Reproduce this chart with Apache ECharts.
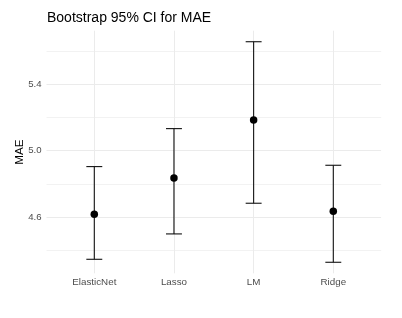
<!DOCTYPE html>
<html>
<head>
<meta charset="utf-8">
<script src="https://cdn.jsdelivr.net/npm/echarts@6/dist/echarts.min.js"></script>
<style>
html,body{margin:0;padding:0;background:#fff;}
#chart{width:402px;height:318px;}
</style>
</head>
<body>
<div id="chart"></div>
<script>
// Data
const categories = ['ElasticNet', 'Lasso', 'LM', 'Ridge'];
const maeMean  = [4.616, 4.835, 5.185, 4.634];
const ciLower  = [4.345, 4.498, 4.683, 4.327];
const ciUpper  = [4.904, 5.133, 5.657, 4.912];
const yMajorTicks = [4.6, 5.0, 5.4];
const yMinorGrid  = [4.4, 4.8, 5.2, 5.6];

// ggplot-like scale expansion
const lo = Math.min(...ciLower), hi = Math.max(...ciUpper);
const pad = (hi - lo) * 0.05;
const yMin = lo - pad, yMax = hi + pad;
const xMin = 1 - 0.6, xMax = categories.length + 0.6;

const pointData = categories.map((c, i) => [i + 1, maeMean[i]]);
const barData = categories.map((c, i) => [i + 1, ciLower[i], ciUpper[i]]);
const capHalf = 0.1;

const chart = echarts.init(document.getElementById('chart'), null, {renderer: 'canvas'});
const font = 'Liberation Sans, Arial, sans-serif';

chart.setOption({
  animation: false,
  backgroundColor: '#ffffff',
  title: {
    text: 'Bootstrap 95% CI for MAE',
    left: 42, top: 6,
    textStyle: {fontFamily: font, fontSize: 14, fontWeight: 'normal', color: '#000'}
  },
  grid: {left: 46.5, right: 20.9, top: 30.7, bottom: 44.7},
  xAxis: {
    type: 'value', min: xMin, max: xMax, minInterval: 1, maxInterval: 1,
    axisLine: {show: false}, axisTick: {show: false}, splitLine: {show: false},
    axisLabel: {
      showMinLabel: false, showMaxLabel: false, margin: 4,
      fontFamily: font, fontSize: 9.8, color: '#4d4d4d',
      formatter: v => {
        const r = Math.round(v);
        return (Math.abs(v - r) < 1e-6 && r >= 1 && r <= categories.length) ? categories[r - 1] : '';
      }
    }
  },
  yAxis: {
    type: 'value', min: yMin, max: yMax, minInterval: 0.2, maxInterval: 0.2,
    name: 'MAE', nameLocation: 'middle', nameGap: 21, nameMoveOverlap: false,
    nameTextStyle: {fontFamily: font, fontSize: 11.7, color: '#000'},
    axisLine: {show: false}, axisTick: {show: false}, splitLine: {show: false},
    axisLabel: {
      showMinLabel: false, showMaxLabel: false, margin: 5,
      fontFamily: font, fontSize: 9.6, color: '#4d4d4d',
      formatter: v => yMajorTicks.some(t => Math.abs(t - v) < 1e-6) ? v.toFixed(1) : ''
    }
  },
  series: [
    {
      type: 'scatter', data: [], z: 0, silent: true,
      markLine: {
        silent: true, symbol: 'none', label: {show: false}, animation: false, z: 0,
        lineStyle: {type: 'solid', color: '#efefef', width: 0.8},
        data: yMinorGrid.map(v => ({yAxis: v}))
      }
    },
    {
      type: 'scatter', data: [], z: 1, silent: true,
      markLine: {
        silent: true, symbol: 'none', label: {show: false}, animation: false, z: 1,
        lineStyle: {type: 'solid', color: '#ebebeb', width: 1},
        data: yMajorTicks.map(v => ({yAxis: v})).concat(categories.map((c, i) => ({xAxis: i + 1})))
      }
    },
    {
      type: 'custom', z: 10, silent: true,
      data: barData,
      renderItem: (params, api) => {
        const x = api.value(0), l = api.value(1), h = api.value(2);
        const pl = api.coord([x, l]), ph = api.coord([x, h]);
        const lL = api.coord([x - capHalf, l]), lR = api.coord([x + capHalf, l]);
        const hL = api.coord([x - capHalf, h]), hR = api.coord([x + capHalf, h]);
        const style = {stroke: '#111', lineWidth: 1.1};
        return {
          type: 'group',
          children: [
            {type: 'line', shape: {x1: pl[0], y1: pl[1], x2: ph[0], y2: ph[1]}, style},
            {type: 'line', shape: {x1: lL[0], y1: lL[1], x2: lR[0], y2: lR[1]}, style},
            {type: 'line', shape: {x1: hL[0], y1: hL[1], x2: hR[0], y2: hR[1]}, style}
          ]
        };
      }
    },
    {
      type: 'scatter', z: 11, silent: true,
      data: pointData, symbol: 'circle', symbolSize: 7.5,
      itemStyle: {color: '#000', opacity: 1}
    }
  ]
});
</script>
</body>
</html>
